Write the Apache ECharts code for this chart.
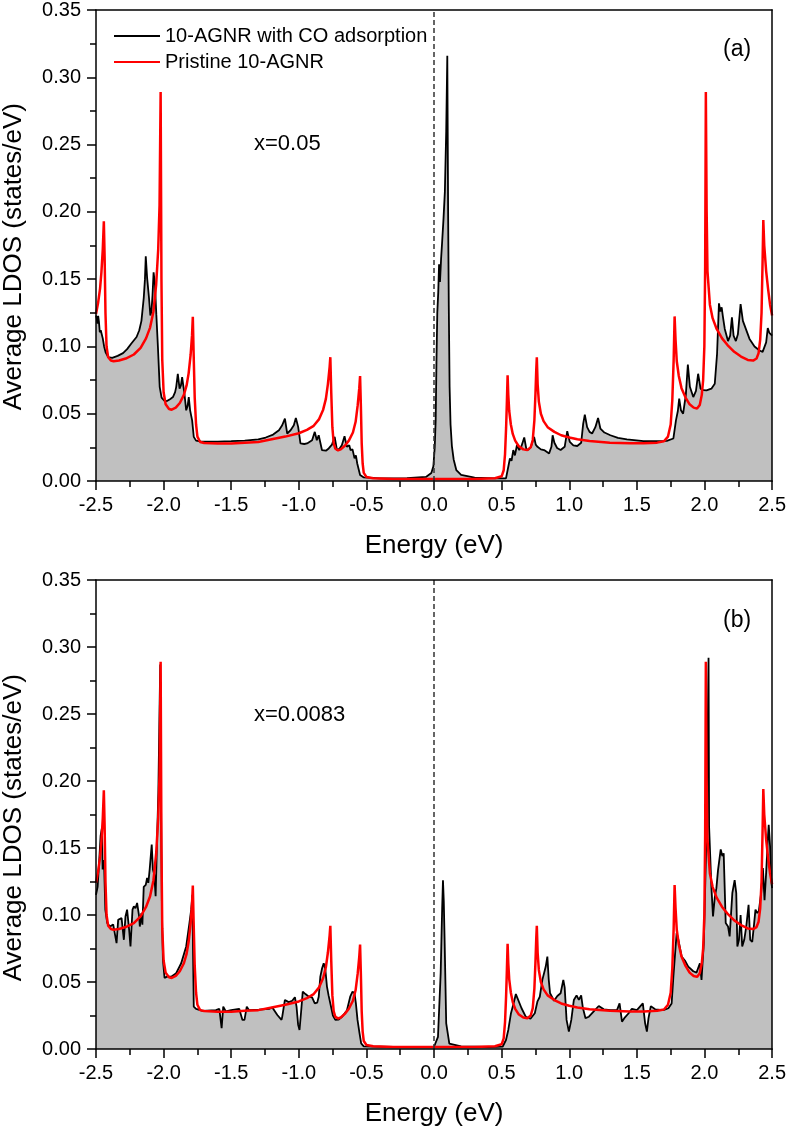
<!DOCTYPE html>
<html>
<head>
<meta charset="utf-8">
<script src="https://cdn.jsdelivr.net/npm/echarts@6/dist/echarts.min.js"></script>
<style>
html, body { margin: 0; padding: 0; background: #fff; }
#main { width: 789px; height: 1128px; }
</style>
</head>
<body>
<div id="main"></div>
<script>
// pristine 10-AGNR (red), same curve in both panels  [energy, LDOS]
var pristineDos = [
  [-2.5, 0.124], [-2.485, 0.132], [-2.47, 0.143], [-2.46, 0.155], [-2.45, 0.172], [-2.442, 0.193],
  [-2.436, 0.165], [-2.43, 0.125], [-2.422, 0.100], [-2.41, 0.092], [-2.39, 0.0895], [-2.37, 0.089],
  [-2.33, 0.0895], [-2.28, 0.091], [-2.22, 0.094], [-2.17, 0.099], [-2.13, 0.106], [-2.1, 0.114],
  [-2.075, 0.126], [-2.055, 0.146], [-2.04, 0.172], [-2.03, 0.205], [-2.022, 0.289], [-2.016, 0.15],
  [-2.01, 0.09], [-2.0, 0.066], [-1.985, 0.057], [-1.96, 0.0535], [-1.94, 0.053], [-1.91, 0.0545],
  [-1.88, 0.058], [-1.85, 0.064], [-1.83, 0.071], [-1.815, 0.080], [-1.80, 0.094], [-1.79, 0.108],
  [-1.784, 0.122], [-1.778, 0.095], [-1.77, 0.062], [-1.76, 0.042], [-1.75, 0.033], [-1.73, 0.029],
  [-1.70, 0.0283], [-1.6, 0.0278], [-1.5, 0.0278], [-1.4, 0.0285], [-1.3, 0.029], [-1.2, 0.031],
  [-1.1, 0.033], [-1.0, 0.0355], [-0.94, 0.038], [-0.89, 0.041], [-0.85, 0.046], [-0.82, 0.053],
  [-0.80, 0.061], [-0.785, 0.072], [-0.772, 0.085], [-0.767, 0.092], [-0.76, 0.065], [-0.752, 0.040],
  [-0.742, 0.028], [-0.73, 0.024], [-0.71, 0.0228], [-0.69, 0.0235], [-0.66, 0.0262], [-0.63, 0.030],
  [-0.60, 0.036], [-0.58, 0.044], [-0.565, 0.056], [-0.553, 0.069], [-0.547, 0.078], [-0.541, 0.055],
  [-0.535, 0.028], [-0.528, 0.013], [-0.52, 0.006], [-0.50, 0.003], [-0.45, 0.002], [-0.3, 0.0015],
  [0.0, 0.0015], [0.3, 0.0015], [0.45, 0.002], [0.50, 0.0035], [0.515, 0.008], [0.525, 0.02],
  [0.533, 0.04], [0.539, 0.06], [0.544, 0.0785], [0.549, 0.064], [0.556, 0.052], [0.568, 0.042],
  [0.582, 0.035], [0.60, 0.030], [0.625, 0.026], [0.66, 0.0235], [0.69, 0.023], [0.715, 0.025],
  [0.73, 0.0305], [0.742, 0.045], [0.750, 0.065], [0.756, 0.083], [0.760, 0.092], [0.766, 0.072],
  [0.775, 0.059], [0.79, 0.050], [0.81, 0.0445], [0.84, 0.040], [0.89, 0.0365], [0.94, 0.034],
  [1.0, 0.0323], [1.06, 0.031], [1.15, 0.0297], [1.3, 0.0285], [1.45, 0.028], [1.55, 0.028],
  [1.65, 0.0285], [1.70, 0.0295], [1.73, 0.033], [1.75, 0.042], [1.762, 0.060], [1.772, 0.090],
  [1.779, 0.1223], [1.786, 0.105], [1.795, 0.089], [1.81, 0.078], [1.83, 0.069], [1.86, 0.062],
  [1.89, 0.057], [1.92, 0.0545], [1.945, 0.0538], [1.965, 0.0565], [1.98, 0.064], [1.99, 0.075],
  [1.999, 0.1], [2.005, 0.16], [2.01, 0.289], [2.016, 0.20], [2.022, 0.156], [2.04, 0.131],
  [2.06, 0.121], [2.09, 0.113], [2.13, 0.106], [2.17, 0.101], [2.22, 0.096], [2.27, 0.0925],
  [2.32, 0.090], [2.36, 0.0895], [2.385, 0.091], [2.40, 0.095], [2.412, 0.105], [2.422, 0.125],
  [2.43, 0.165], [2.435, 0.194], [2.442, 0.175], [2.456, 0.156], [2.47, 0.143], [2.485, 0.131],
  [2.5, 0.123]
];

// 10-AGNR with CO adsorption, x=0.05 (panel a)
var coDosA = [
  [-2.5, 0.123], [-2.495, 0.121], [-2.49, 0.117], [-2.484, 0.1228], [-2.478, 0.118], [-2.472, 0.1105],
  [-2.465, 0.112], [-2.46, 0.110], [-2.45, 0.106], [-2.44, 0.100], [-2.429, 0.0957], [-2.41, 0.092],
  [-2.38, 0.0915], [-2.34, 0.093], [-2.30, 0.095], [-2.27, 0.098], [-2.24, 0.102], [-2.20, 0.107],
  [-2.18, 0.112], [-2.164, 0.119], [-2.147, 0.136], [-2.138, 0.150], [-2.132, 0.167], [-2.122, 0.151],
  [-2.108, 0.136], [-2.098, 0.123], [-2.09, 0.126], [-2.082, 0.138], [-2.074, 0.155], [-2.064, 0.146],
  [-2.054, 0.124], [-2.042, 0.0994], [-2.029, 0.070], [-2.015, 0.062], [-1.995, 0.0598], [-1.975, 0.0594],
  [-1.95, 0.061], [-1.931, 0.0624], [-1.915, 0.066], [-1.907, 0.0698], [-1.895, 0.0797], [-1.882, 0.0686],
  [-1.872, 0.071], [-1.863, 0.0772], [-1.852, 0.069], [-1.846, 0.0649], [-1.833, 0.0525], [-1.822, 0.056],
  [-1.814, 0.0624], [-1.804, 0.0525], [-1.789, 0.0451], [-1.777, 0.0328], [-1.76, 0.030], [-1.72, 0.0292],
  [-1.6, 0.0293], [-1.5, 0.0296], [-1.4, 0.030], [-1.3, 0.031], [-1.245, 0.0323], [-1.19, 0.0345],
  [-1.147, 0.0377], [-1.123, 0.0414], [-1.103, 0.0464], [-1.086, 0.0353], [-1.061, 0.0377], [-1.037, 0.0414],
  [-1.022, 0.0469], [-1.005, 0.0402], [-0.988, 0.0279], [-0.96, 0.0275], [-0.939, 0.0279], [-0.902, 0.0303],
  [-0.882, 0.0365], [-0.867, 0.0303], [-0.853, 0.034], [-0.829, 0.023], [-0.80, 0.0225], [-0.779, 0.0242],
  [-0.755, 0.027], [-0.735, 0.0328], [-0.718, 0.023], [-0.70, 0.024], [-0.682, 0.0266], [-0.662, 0.0333],
  [-0.645, 0.0254], [-0.627, 0.0266], [-0.618, 0.023], [-0.603, 0.0235], [-0.588, 0.0168], [-0.578, 0.019],
  [-0.568, 0.013], [-0.559, 0.0143], [-0.547, 0.0044], [-0.522, 0.0027], [-0.4, 0.002], [-0.2, 0.0022],
  [-0.06, 0.003], [-0.02, 0.006], [-0.005, 0.011], [0.005, 0.025], [0.012, 0.045], [0.018, 0.09],
  [0.024, 0.125], [0.031, 0.14], [0.037, 0.161], [0.044, 0.148], [0.052, 0.165], [0.06, 0.178],
  [0.07, 0.195], [0.08, 0.215], [0.09, 0.26], [0.098, 0.316], [0.104, 0.20], [0.109, 0.13],
  [0.115, 0.07], [0.122, 0.042], [0.132, 0.026], [0.145, 0.016], [0.165, 0.008], [0.2, 0.0045],
  [0.3, 0.0025], [0.45, 0.002], [0.532, 0.002], [0.549, 0.0106], [0.561, 0.0168], [0.573, 0.015],
  [0.586, 0.023], [0.598, 0.019], [0.613, 0.0266], [0.630, 0.023], [0.645, 0.0254], [0.667, 0.0323],
  [0.684, 0.023], [0.700, 0.0235], [0.716, 0.0254], [0.740, 0.0328], [0.752, 0.027], [0.765, 0.0254],
  [0.79, 0.0235], [0.814, 0.023], [0.851, 0.0205], [0.868, 0.0254], [0.877, 0.034], [0.89, 0.0284],
  [0.91, 0.0245], [0.936, 0.023], [0.966, 0.0254], [0.985, 0.037], [1.004, 0.029], [1.03, 0.0265],
  [1.059, 0.026], [1.088, 0.0284], [1.103, 0.0427], [1.115, 0.0493], [1.132, 0.040], [1.150, 0.0365],
  [1.169, 0.0353], [1.193, 0.040], [1.213, 0.0469], [1.230, 0.039], [1.26, 0.036], [1.304, 0.034],
  [1.36, 0.032], [1.426, 0.031], [1.549, 0.0296], [1.65, 0.0296], [1.721, 0.0298], [1.770, 0.0316],
  [1.789, 0.045], [1.803, 0.052], [1.813, 0.0612], [1.826, 0.0525], [1.842, 0.050], [1.862, 0.064],
  [1.877, 0.0866], [1.892, 0.070], [1.917, 0.0624], [1.937, 0.067], [1.953, 0.0797], [1.971, 0.0686],
  [1.99, 0.0675], [2.015, 0.0673], [2.051, 0.0686], [2.076, 0.0723], [2.093, 0.0945], [2.107, 0.132],
  [2.117, 0.126], [2.127, 0.129], [2.137, 0.1216], [2.150, 0.113], [2.174, 0.104], [2.190, 0.108],
  [2.203, 0.1216], [2.215, 0.108], [2.232, 0.104], [2.247, 0.109], [2.267, 0.1315], [2.284, 0.119],
  [2.333, 0.1056], [2.37, 0.100], [2.407, 0.097], [2.43, 0.096], [2.456, 0.103], [2.468, 0.1137],
  [2.48, 0.110], [2.5, 0.108]
];

// 10-AGNR with CO adsorption, x=0.0083 (panel b)
var coDosB = [
  [-2.5, 0.115], [-2.488, 0.121], [-2.476, 0.141], [-2.466, 0.159], [-2.456, 0.165], [-2.451, 0.134],
  [-2.441, 0.141], [-2.431, 0.104], [-2.417, 0.094], [-2.397, 0.0914], [-2.373, 0.093], [-2.36, 0.092],
  [-2.348, 0.079], [-2.336, 0.0964], [-2.324, 0.0964], [-2.311, 0.0977], [-2.294, 0.0815], [-2.282, 0.0989],
  [-2.270, 0.104], [-2.255, 0.089], [-2.245, 0.0765], [-2.230, 0.104], [-2.220, 0.1065], [-2.208, 0.105],
  [-2.196, 0.109], [-2.181, 0.0989], [-2.176, 0.0914], [-2.164, 0.1015], [-2.157, 0.0927], [-2.147, 0.121],
  [-2.132, 0.1225], [-2.122, 0.1276], [-2.113, 0.124], [-2.103, 0.134], [-2.088, 0.1525], [-2.079, 0.134],
  [-2.069, 0.13], [-2.059, 0.114], [-2.049, 0.154], [-2.039, 0.191], [-2.032, 0.24], [-2.025, 0.287],
  [-2.018, 0.17], [-2.012, 0.10], [-2.005, 0.0665], [-1.993, 0.053], [-1.975, 0.054], [-1.944, 0.054],
  [-1.907, 0.0566], [-1.870, 0.064], [-1.833, 0.0765], [-1.809, 0.094], [-1.796, 0.104], [-1.787, 0.115],
  [-1.782, 0.07], [-1.777, 0.0316], [-1.760, 0.030], [-1.711, 0.0284], [-1.613, 0.029], [-1.588, 0.030],
  [-1.571, 0.0155], [-1.559, 0.0316], [-1.54, 0.028], [-1.50, 0.029], [-1.441, 0.030], [-1.417, 0.0217],
  [-1.402, 0.0217], [-1.385, 0.0316], [-1.368, 0.029], [-1.294, 0.0294], [-1.22, 0.030], [-1.196, 0.031],
  [-1.184, 0.0316], [-1.159, 0.0254], [-1.128, 0.0217], [-1.123, 0.024], [-1.103, 0.0366], [-1.075, 0.035],
  [-1.049, 0.036], [-1.029, 0.0386], [-1.017, 0.0316], [-1.005, 0.018], [-0.995, 0.0142], [-0.983, 0.028],
  [-0.971, 0.0428], [-0.951, 0.041], [-0.926, 0.039], [-0.902, 0.0386], [-0.882, 0.034], [-0.864, 0.0346],
  [-0.853, 0.039], [-0.841, 0.054], [-0.828, 0.0603], [-0.816, 0.064], [-0.804, 0.0595], [-0.792, 0.0466],
  [-0.78, 0.040], [-0.765, 0.033], [-0.748, 0.025], [-0.730, 0.0217], [-0.705, 0.022], [-0.681, 0.024],
  [-0.645, 0.0286], [-0.620, 0.039], [-0.603, 0.0428], [-0.588, 0.0416], [-0.578, 0.034], [-0.566, 0.0217],
  [-0.551, 0.0117], [-0.539, 0.0042], [-0.52, 0.002], [-0.3, 0.0015], [-0.05, 0.0015], [0.0, 0.0017],
  [0.029, 0.009], [0.049, 0.0566], [0.060, 0.105], [0.066, 0.126], [0.072, 0.11], [0.078, 0.0815],
  [0.090, 0.0192], [0.113, 0.004], [0.2, 0.002], [0.4, 0.0015], [0.507, 0.0017], [0.532, 0.0067],
  [0.549, 0.0142], [0.569, 0.0267], [0.588, 0.034], [0.605, 0.041], [0.618, 0.0416], [0.647, 0.0304],
  [0.678, 0.0241], [0.713, 0.0226], [0.745, 0.0267], [0.765, 0.0356], [0.782, 0.039], [0.801, 0.0516],
  [0.826, 0.0615], [0.838, 0.069], [0.848, 0.052], [0.858, 0.0416], [0.887, 0.036], [0.912, 0.0396],
  [0.936, 0.0416], [0.956, 0.0516], [0.966, 0.046], [0.980, 0.0217], [0.997, 0.013], [1.015, 0.0217],
  [1.034, 0.0366], [1.054, 0.040], [1.071, 0.0366], [1.088, 0.040], [1.100, 0.031], [1.120, 0.023],
  [1.145, 0.0241], [1.181, 0.028], [1.218, 0.0321], [1.255, 0.0296], [1.304, 0.029], [1.353, 0.029],
  [1.372, 0.034], [1.390, 0.0204], [1.407, 0.023], [1.439, 0.0267], [1.463, 0.030], [1.500, 0.029],
  [1.544, 0.034], [1.561, 0.0192], [1.574, 0.013], [1.586, 0.023], [1.603, 0.032], [1.635, 0.0296],
  [1.696, 0.029], [1.733, 0.0304], [1.757, 0.034], [1.770, 0.054], [1.794, 0.0865], [1.806, 0.082],
  [1.831, 0.069], [1.855, 0.066], [1.880, 0.0615], [1.917, 0.058], [1.941, 0.057], [1.966, 0.064],
  [1.978, 0.0516], [1.995, 0.079], [2.010, 0.141], [2.022, 0.22], [2.030, 0.292], [2.034, 0.166],
  [2.051, 0.121], [2.063, 0.099], [2.076, 0.113], [2.088, 0.120], [2.100, 0.1335], [2.120, 0.149],
  [2.132, 0.144], [2.142, 0.146], [2.157, 0.094], [2.174, 0.0915], [2.186, 0.084], [2.206, 0.1164],
  [2.223, 0.126], [2.235, 0.1164], [2.243, 0.0765], [2.255, 0.0815], [2.267, 0.100], [2.279, 0.0765],
  [2.294, 0.0815], [2.309, 0.0915], [2.326, 0.1076], [2.338, 0.0815], [2.353, 0.080], [2.365, 0.0915],
  [2.377, 0.104], [2.390, 0.1015], [2.402, 0.103], [2.419, 0.1164], [2.432, 0.135], [2.444, 0.111],
  [2.456, 0.1315], [2.468, 0.156], [2.475, 0.1674], [2.485, 0.1515], [2.493, 0.126], [2.5, 0.12]
];

var seriesNames = ['10-AGNR with CO adsorption', 'Pristine 10-AGNR'];
var panelTags = ['(a)', '(b)'];
var panelNotes = ['x=0.05', 'x=0.0083'];
var xTitle = 'Energy (eV)';
var yTitle = 'Average LDOS (states/eV)';

var FONT = '"Liberation Sans", Arial, Helvetica, sans-serif';
var chart = echarts.init(document.getElementById('main'), null, {renderer: 'canvas'});

var grids = [
  {left: 96, top: 9, width: 679, height: 472},
  {left: 96, top: 580, width: 679, height: 469}
];
var axisLine = {show: true, onZero: false, lineStyle: {color: '#000', width: 1.5}};

var xAxes = [], yAxes = [], series = [], graphics = [];
grids.forEach(function (g, i) {
  xAxes.push({
    gridIndex: i, type: 'value', min: -2.5, max: 2.5, interval: 0.5, z: 5,
    axisLine: axisLine,
    axisTick: {show: true, inside: false, length: 9, lineStyle: {color: '#000', width: 1.5}},
    minorTick: {show: true, splitNumber: 2, length: 6, lineStyle: {color: '#000', width: 1.5}},
    splitLine: {show: false},
    axisLabel: {color: '#000', fontSize: 20, fontFamily: FONT, margin: 14,
      formatter: function (v) { return v.toFixed(1); }},
    name: xTitle, nameLocation: 'middle', nameGap: 52,
    nameTextStyle: {color: '#000', fontSize: 26, fontFamily: FONT}
  });
  // top frame line
  xAxes.push({
    gridIndex: i, type: 'value', position: 'top', min: -2.5, max: 2.5, z: 5,
    axisLine: axisLine, axisTick: {show: false}, axisLabel: {show: false}, splitLine: {show: false}
  });
  yAxes.push({
    gridIndex: i, type: 'value', min: 0, max: 0.35, interval: 0.05, z: 5,
    axisLine: axisLine,
    axisTick: {show: true, inside: false, length: 9, lineStyle: {color: '#000', width: 1.5}},
    minorTick: {show: true, splitNumber: 2, length: 6, lineStyle: {color: '#000', width: 1.5}},
    splitLine: {show: false},
    axisLabel: {color: '#000', fontSize: 20, fontFamily: FONT, margin: 15,
      formatter: function (v) { return v.toFixed(2); }}
  });
  // right frame line
  yAxes.push({
    gridIndex: i, type: 'value', position: 'right', min: 0, max: 0.35, z: 5,
    axisLine: axisLine, axisTick: {show: false}, axisLabel: {show: false}, splitLine: {show: false}
  });

  series.push({
    name: seriesNames[0], type: 'line', xAxisIndex: 2 * i, yAxisIndex: 2 * i,
    data: i === 0 ? coDosA : coDosB,
    symbol: 'none', z: 2,
    lineStyle: {color: '#000', width: 1.8},
    areaStyle: {color: '#c0c0c0', opacity: 1}
  });
  series.push({
    name: seriesNames[1], type: 'line', xAxisIndex: 2 * i, yAxisIndex: 2 * i,
    data: pristineDos,
    symbol: 'none', z: 3,
    lineStyle: {color: '#ff0000', width: 2.5},
    markLine: {
      silent: true, symbol: ['none', 'none'], label: {show: false},
      lineStyle: {color: '#333', type: [5, 3], width: 1.5},
      data: [{xAxis: 0}]
    }
  });

  graphics.push({
    type: 'text', x: 14, y: g.top + 94, rotation: Math.PI / 2,
    style: {text: yTitle, fontSize: 26, fontFamily: FONT, fill: '#000', align: 'right', verticalAlign: 'middle'}
  });
  graphics.push({
    type: 'text', x: 723, y: g.top + 41,
    style: {text: panelTags[i], fontSize: 23, fontFamily: FONT, fill: '#000', align: 'left', verticalAlign: 'middle'}
  });
  graphics.push({
    type: 'text', x: 254, y: g.top + 135,
    style: {text: panelNotes[i], fontSize: 22, fontFamily: FONT, fill: '#000', align: 'left', verticalAlign: 'middle'}
  });
});

var option = {
  animation: false,
  backgroundColor: '#fff',
  grid: grids,
  xAxis: xAxes,
  yAxis: yAxes,
  legend: {
    orient: 'vertical', left: 114, top: 26, padding: 0,
    itemWidth: 46, itemHeight: 2, itemGap: 6,
    textStyle: {color: '#000', fontSize: 20, fontFamily: FONT},
    data: [
      {name: seriesNames[0], icon: 'rect', itemStyle: {color: '#000'}},
      {name: seriesNames[1], icon: 'rect', itemStyle: {color: '#ff0000'}}
    ]
  },
  graphic: graphics,
  series: series
};
chart.setOption(option);
</script>
</body>
</html>
